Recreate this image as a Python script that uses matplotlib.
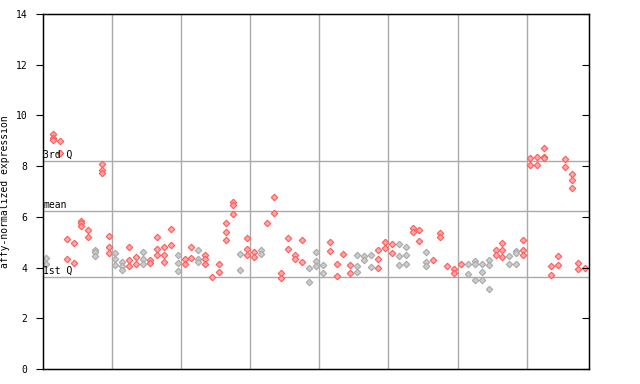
import matplotlib
matplotlib.use("Agg")
import matplotlib.pyplot as plt

# one entry per sample column: expression values
values = [
    [4.38, 4.14], [9.27, 9.11, 9.03], [8.99, 8.52], [5.13, 4.34], [4.97, 4.18],
    [5.84, 5.76, 5.64], [5.48, 5.21], [4.69, 4.61, 4.46], [8.08, 7.85, 7.73], [5.24, 4.81, 4.57],
    [4.57, 4.34, 4.10], [4.22, 4.06, 3.90], [4.81, 4.30, 4.06], [4.42, 4.14], [4.61, 4.34, 4.14],
    [4.30, 4.18], [5.21, 4.73, 4.50], [4.81, 4.50, 4.22], [5.52, 4.89], [4.50, 4.18, 3.86],
    [4.34, 4.14], [4.81, 4.38], [4.69, 4.34, 4.22], [4.50, 4.34, 4.14], [3.63],
    [4.14, 3.82], [5.76, 5.40, 5.09], [6.59, 6.47, 6.11], [4.53, 3.90], [5.17, 4.73, 4.50],
    [4.61, 4.42], [4.69, 4.53], [5.76], [6.78, 6.15], [3.79, 3.59],
    [5.17, 4.73], [4.50, 4.34], [5.09, 4.22], [3.98, 3.43], [4.61, 4.26, 4.06],
    [4.10, 3.79], [5.01, 4.65], [4.14, 3.67], [4.53], [4.10, 3.79],
    [4.50, 4.06, 3.82], [4.46, 4.30], [4.50, 4.02], [4.69, 4.34, 3.98], [5.01, 4.77],
    [4.93, 4.57], [4.93, 4.46, 4.10], [4.81, 4.50, 4.14], [5.56, 5.40], [5.48, 5.05],
    [4.61, 4.22, 4.06], [4.30], [5.36, 5.21], [4.06], [3.94, 3.79],
    [4.14], [4.14, 3.75], [4.26, 4.14, 3.51], [4.14, 3.82, 3.51], [4.30, 4.10, 3.15],
    [4.69, 4.50], [4.97, 4.69, 4.42], [4.46, 4.14], [4.65, 4.57, 4.14], [5.09, 4.69, 4.50],
    [8.32, 8.04], [8.36, 8.04], [8.71, 8.36, 8.32], [4.06, 3.71], [4.46, 4.10],
    [8.28, 7.97], [7.69, 7.45, 7.14], [4.18, 3.94], [3.98],
]

# columns drawn in grey instead of red
grey_cols = {0, 7, 10, 11, 14, 19, 22, 28, 31, 38, 39, 40, 45, 46, 47, 51, 52, 55, 61, 62, 63, 64, 67, 68}

q3 = 8.22
mean = 6.22
q1 = 3.63

fig = plt.figure(figsize=(6.4, 3.84), dpi=100)
ax = fig.add_axes([0.067, 0.039, 0.853, 0.9245])

for i, vals in enumerate(values):
    if i in grey_cols:
        face, edge = "#cccccc", "#a8a8a8"
    else:
        face, edge = "#ffa8a8", "#ff5a5a"
    ax.plot([i] * len(vals), vals, linestyle="none", marker="D", markersize=3.3,
            markerfacecolor=face, markeredgecolor=edge, markeredgewidth=0.8)

for gx in range(1, 8):
    ax.axvline(gx * 10 - 0.5, color="#aaaaaa", linewidth=1, zorder=0)

mono = "DejaVu Sans Mono"
for yv, lab in [(q3, "3rd Q"), (mean, "mean"), (q1, "1st Q")]:
    ax.axhline(yv, color="#aaaaaa", linewidth=1, zorder=0)
    ax.text(-0.45, yv + 0.05, lab, fontsize=7, family=mono, va="bottom", ha="left")

ax.set_xlim(-0.5, len(values) - 0.5)
ax.set_ylim(0, 14)
ax.set_yticks(range(0, 15, 2))
ax.set_xticks([])
ax.tick_params(axis="y", direction="out", length=5, pad=6, labelsize=7)
for lab in ax.get_yticklabels():
    lab.set_family(mono)
ax.set_ylabel("affy-normalized expression", fontsize=7, family=mono)
for s in ax.spines.values():
    s.set_color("black")
    s.set_linewidth(1)

# inward ticks on the right edge
right = ax.twinx()
right.set_ylim(0, 14)
right.set_yticks(range(0, 15, 2))
right.tick_params(axis="y", direction="in", length=5, labelright=False)

fig.savefig("out.png", dpi=100)
